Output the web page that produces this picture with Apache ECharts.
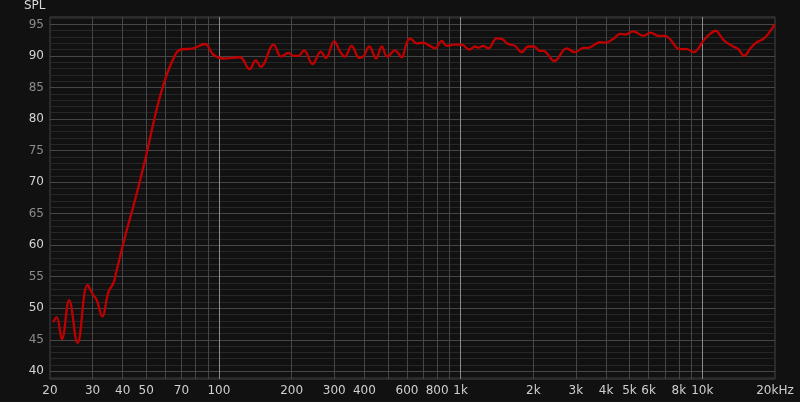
<!DOCTYPE html>
<html>
<head>
<meta charset="utf-8">
<script src="https://cdn.jsdelivr.net/npm/echarts@6/dist/echarts.min.js"></script>
<style>
html,body{margin:0;padding:0;background:#111111;}
#c{width:800px;height:402px;}
</style>
</head>
<body>
<div id="c"></div>
<script>
// Frequency response (Hz, dB SPL)
const freqs = [20.6,21.3,22.4,24.0,26.0,28.6,30.2,31.2,32.9,34.9,36.6,37.8,40.9,45.0,49.5,51.9,55.3,59.8,64.7,69.0,78.3,87.6,94.8,103.5,122,134,142,149,168.5,181,194,203,213,225,244,264,277,300,317,332,354,381,396,419,447,472,497,535,571,595,618,658,701,747,784,835,876,933,1011,1087,1147,1184,1242,1302,1411,1479,1575,1680,1790,1906,2012,2132,2200,2442,2748,2975,3220,3376,3774,3960,4284,4568,4790,5184,5702,6118,6580,7012,7354,7840,8222,8624,9242,9632,10098,10766,11398,11842,12422,13440,14096,14924,15760,16688,17888,18756,19862,20000];
const spl = [47.8,48.6,45.1,51.3,44.5,53.7,52.1,51.3,48.7,52.6,54.0,56.1,61.4,67.2,73.5,77.0,81.6,86.2,89.5,91.0,91.2,91.9,90.2,89.6,89.8,87.9,89.3,88.3,91.8,89.9,90.5,90.0,90.0,90.9,88.7,90.7,89.7,92.3,90.7,89.9,91.6,89.7,89.9,91.5,89.6,91.5,89.9,90.9,89.8,91.8,92.8,92.0,92.1,91.6,91.2,92.4,91.6,91.8,91.8,91.0,91.5,91.3,91.6,91.2,92.8,92.7,91.9,91.6,90.6,91.5,91.5,90.8,90.8,89.2,91.2,90.6,91.3,91.3,92.2,92.1,92.7,93.5,93.4,93.9,93.2,93.7,93.2,93.2,92.7,91.3,91.1,91.1,90.6,91.2,92.4,93.5,94.0,93.3,92.3,91.5,91.1,90.0,91.1,92.1,92.7,93.5,94.9,95.0];

// Axis ticks
const xLabelFreqs = [20,30,40,50,70,100,200,300,400,600,800,1000,2000,3000,4000,5000,6000,8000,10000,20000];
const xLabelTexts = ['20','30','40','50','70','100','200','300','400','600','800','1k','2k','3k','4k','5k','6k','8k','10k','20kHz'];
const xGridFreqs = [30,40,50,60,70,80,90,200,300,400,500,600,700,800,900,2000,3000,4000,5000,6000,7000,8000,9000];
const xDecadeFreqs = [100,1000,10000];
const yMajorTicks = [40,45,50,55,60,65,70,75,80,85,90,95];
const yMinorTicks = [39,40,41,42,43,44,45,46,47,48,49,50,51,52,53,54,55,56,57,58,59,60,61,62,63,64,65,66,67,68,69,70,71,72,73,74,75,76,77,78,79,80,81,82,83,84,85,86,87,88,89,90,91,92,93,94,95,96];

const lg = Math.log10;
const xMin = lg(20), xMax = lg(20000);
const yMin = 38.78, yMax = 96.18;
const labelMap = {};
xLabelFreqs.forEach((f, i) => { labelMap[f] = xLabelTexts[i]; });

const font = 'DejaVu Sans';
const chart = echarts.init(document.getElementById('c'), null, {renderer: 'canvas'});
chart.setOption({
  backgroundColor: '#111111',
  animation: false,
  graphic: [{
    type: 'text', left: 24, top: 0,
    style: {text: 'SPL', fill: '#d8d8d8', font: '12px "DejaVu Sans"'}
  }],
  grid: {left: 50, right: 25, top: 17, bottom: 23, show: true, borderColor: '#474747', borderWidth: 1, backgroundColor: 'transparent'},
  xAxis: [{
    type: 'value', min: xMin, max: xMax,
    axisLine: {show: false},
    axisTick: {show: false, customValues: xGridFreqs.map(lg)},
    splitLine: {show: true, lineStyle: {color: '#464646', width: 1}},
    axisLabel: {
      customValues: xLabelFreqs.map(lg),
      formatter: v => labelMap[Math.round(Math.pow(10, v))] || '',
      color: '#cfcfcf', fontFamily: font, fontSize: 12, margin: 6
    }
  }, {
    type: 'value', min: xMin, max: xMax,
    axisLine: {show: false},
    axisTick: {show: false, customValues: xDecadeFreqs.map(lg)},
    splitLine: {show: true, lineStyle: {color: '#8a8a8a', width: 1}},
    axisLabel: {show: false}
  }],
  yAxis: [{
    type: 'value', min: yMin, max: yMax,
    axisLine: {show: false},
    axisTick: {show: false, customValues: yMinorTicks},
    splitLine: {show: true, lineStyle: {color: '#272727', width: 1}},
    axisLabel: {show: false}
  }, {
    type: 'value', min: yMin, max: yMax, position: 'left',
    axisLine: {show: false},
    axisTick: {show: false, customValues: yMajorTicks},
    splitLine: {show: true, lineStyle: {color: '#464646', width: 1}},
    axisLabel: {
      customValues: yMajorTicks,
      color: v => (v % 10 === 0 ? '#d4d4d4' : '#8c8c8c'),
      fontFamily: font, fontSize: 12, margin: 6
    }
  }],
  series: [{
    type: 'line',
    xAxisIndex: 0, yAxisIndex: 1,
    data: freqs.map((f, i) => [lg(f), spl[i]]),
    showSymbol: false,
    smooth: 0.4,
    lineStyle: {color: '#c00000', width: 2.3},
    z: 10
  }]
});
</script>
</body>
</html>
